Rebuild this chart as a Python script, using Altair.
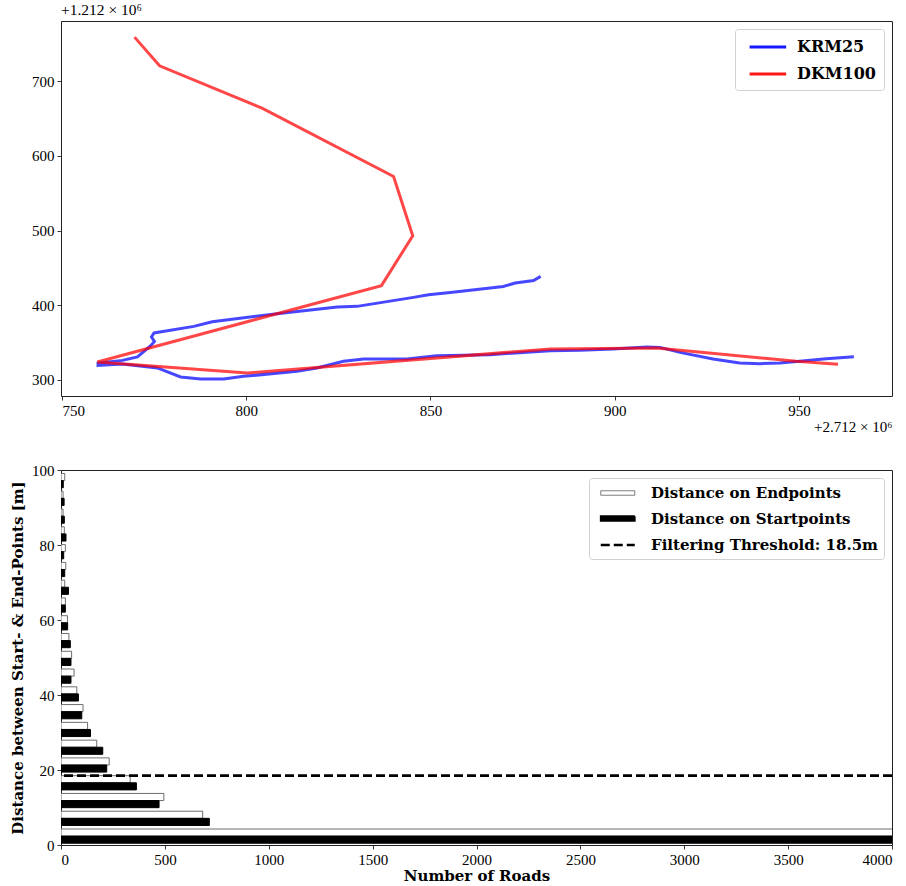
import altair as alt
import pandas as pd

# ---- Track geometry (local offsets: x + 2.712e6, y + 1.212e6) ----
krm25_x = [879.9, 878.0, 873.0, 869.8, 855.4, 849.5, 845.4, 830.1, 824.7, 808.4,
           790.8, 785.8, 775.0, 774.3, 775.1, 774.1, 770.5, 766.4, 759.8, 759.8,
           766.4, 775.9, 782.2, 787.6, 793.9, 799.3, 813.8, 819.2, 826.4, 831.9,
           843.6, 851.7, 866.2, 882.5, 890.6, 899.6, 908.7, 912.3, 917.7, 926.7,
           933.9, 939.4, 944.8, 950.2, 957.4, 964.9]
krm25_y = [438.6, 433.2, 429.8, 425.2, 417.2, 414.1, 410.5, 398.5, 397.7, 388.7,
           378.0, 371.7, 362.9, 357.5, 351.6, 345.9, 330.8, 326.2, 322.7, 319.5,
           321.4, 316.1, 304.0, 301.3, 301.3, 304.8, 311.5, 316.1, 324.9, 328.1,
           328.1, 332.5, 333.8, 339.2, 339.6, 341.5, 344.1, 343.6, 336.9, 328.1,
           322.7, 321.8, 322.7, 324.9, 328.5, 331.2]

dkm100_x = [769.7, 776.5, 804.3, 840.0, 845.2, 836.7, 759.6, 800.3, 882.5, 911.4, 949.3, 960.6]
dkm100_y = [758.9, 720.5, 663.9, 572.4, 493.0, 426.2, 324.1, 309.4, 341.5, 342.8, 324.9, 320.9]

# ---- Histogram of start/end point distances ----
bin_width = 4.74
bin_start = [0.0, 4.74, 9.48, 14.22, 18.96, 23.70, 28.44, 33.18, 37.92, 42.66, 47.40,
             52.14, 56.88, 61.62, 66.36, 71.10, 75.84, 80.58, 85.32, 90.06, 94.80]
endpoints = [4600, 682, 495, 333, 232, 172, 128, 106, 76, 63, 51,
             38, 31, 21, 18, 23, 21, 16, 10, 10, 18]
startpoints = [4700, 714, 472, 363, 220, 201, 142, 100, 84, 48, 48,
               45, 32, 21, 36, 18, 13, 24, 16, 15, 11]
threshold = 18.5

END_LABEL = "Distance on Endpoints"
START_LABEL = "Distance on Startpoints"
THR_LABEL = "Filtering Threshold: 18.5m"

SERIF = "Liberation Serif"
BOLD_SERIF = "DejaVu Serif"

# ---------------- top panel: the two road geometries ----------------
paths = pd.concat([
    pd.DataFrame({"series": "KRM25", "order": range(len(krm25_x)), "x": krm25_x, "y": krm25_y}),
    pd.DataFrame({"series": "DKM100", "order": range(len(dkm100_x)), "x": dkm100_x, "y": dkm100_y}),
])

line_symbol = "M-0.4,0H3.9"

top = alt.Chart(paths).mark_line(strokeWidth=3, opacity=0.72, clip=True).encode(
    x=alt.X("x:Q",
            scale=alt.Scale(domain=[749.75, 975.25], nice=False, zero=False),
            axis=alt.Axis(values=[750, 800, 850, 900, 950], title="+2.712 × 10⁶",
                          titleAnchor="end", titleAlign="right", titleFont=SERIF,
                          titleFontWeight="normal", titleFontSize=15, titlePadding=1)),
    y=alt.Y("y:Q",
            scale=alt.Scale(domain=[278.5, 780.5], nice=False, zero=False),
            axis=alt.Axis(values=[300, 400, 500, 600, 700], title=None)),
    color=alt.Color("series:N",
                    scale=alt.Scale(domain=["KRM25", "DKM100"], range=["#0000ff", "#ff0000"]),
                    legend=alt.Legend(title=None, orient="top-right", offset=8,
                                      symbolType=line_symbol, symbolSize=289,
                                      symbolStrokeWidth=3, symbolOpacity=0.9,
                                      labelFontSize=16, labelOffset=34, rowPadding=9,
                                      padding=8)),
    order="order:Q",
).properties(
    width=831, height=375,
    title=alt.TitleParams("+1.212 × 10⁶", anchor="start", frame="group", font=SERIF,
                          fontSize=15.5, fontWeight="normal", offset=3, color="black"),
)

# ---------------- bottom panel: histogram ----------------
hist = pd.concat([
    pd.DataFrame({"bin_start": bin_start, "series": END_LABEL, "count": endpoints}),
    pd.DataFrame({"bin_start": bin_start, "series": START_LABEL, "count": startpoints}),
])
thr = pd.DataFrame({"series": [THR_LABEL], "value": [threshold]})

dom = [END_LABEL, START_LABEL, THR_LABEL]
rect_symbol = "M-0.5,-0.265H3.5V0.265H-0.5Z"
dash_symbol = "M-0.5,0H3.5"

leg = alt.Legend(title=None, orient="top-right", offset=8, symbolSize=289,
                 labelFontSize=15, labelOffset=36, rowPadding=8, padding=6)

fill_scale = alt.Scale(domain=dom, range=["white", "black", "white"])
stroke_scale = alt.Scale(domain=dom, range=["#6e6e6e", "black", "black"])
dash_scale = alt.Scale(domain=dom, range=[[1, 0], [1, 0], [9, 4]])
width_scale = alt.Scale(domain=dom, range=[1, 2.6], padding=0)
shape_scale = alt.Scale(domain=dom, range=[rect_symbol, rect_symbol, dash_symbol])

x_hist = alt.X("count:Q", scale=alt.Scale(domain=[0, 4000], nice=False),
               axis=alt.Axis(values=list(range(0, 4001, 500)), format="d",
                             title="Number of Roads", titlePadding=1))
y_hist = alt.Y("lo:Q", scale=alt.Scale(domain=[0, 100], nice=False),
               axis=alt.Axis(values=[0, 20, 40, 60, 80, 100],
                             title="Distance between Start- & End-Points [m]"))

bars = alt.Chart(hist).transform_calculate(
    lo=f"datum.bin_start + (datum.series == '{START_LABEL}' ? 0.1 : 0.5) * {bin_width}",
    hi=f"datum.bin_start + (datum.series == '{START_LABEL}' ? 0.5 : 0.9) * {bin_width}",
).mark_bar(clip=True, strokeWidth=1).encode(
    x=x_hist,
    x2=alt.datum(0),
    y=y_hist,
    y2="hi:Q",
    fill=alt.Fill("series:N", scale=fill_scale, legend=leg),
    stroke=alt.Stroke("series:N", scale=stroke_scale, legend=leg),
)

rule = alt.Chart(thr).mark_rule(clip=True).encode(
    y=alt.Y("value:Q"),
    stroke=alt.Stroke("series:N", scale=stroke_scale, legend=leg),
    strokeDash=alt.StrokeDash("series:N", scale=dash_scale, legend=leg),
    strokeWidth=alt.StrokeWidth("series:N", scale=width_scale, legend=leg),
)

key = alt.Chart(thr).mark_point(opacity=0).encode(
    y=alt.Y("value:Q"),
    shape=alt.Shape("series:N", scale=shape_scale, legend=leg),
)

bottom = alt.layer(bars, rule, key).properties(width=831, height=375)

chart = alt.vconcat(top, bottom, spacing=27).resolve_scale(
    color="independent", fill="independent", stroke="independent",
    strokeDash="independent", strokeWidth="independent", shape="independent",
).resolve_legend(
    color="independent", fill="independent", stroke="independent",
    strokeDash="independent", strokeWidth="independent", shape="independent",
).properties(
    padding={"left": 10, "top": 2, "right": 1, "bottom": 0}
).configure_view(
    stroke="#222", strokeWidth=1
).configure_axis(
    domain=False, grid=False, tickColor="#222", tickSize=4, tickWidth=0.9,
    labelFont=SERIF, labelFontSize=15, labelColor="black", labelPadding=3,
    titleFont=BOLD_SERIF, titleFontWeight="bold", titleFontSize=15, titleColor="black",
    titlePadding=6,
).configure_legend(
    labelFont=BOLD_SERIF, labelFontWeight="bold", labelColor="black",
    fillColor="white", strokeColor="#d0d0d0", cornerRadius=3, labelLimit=400,
)

chart.save("out.html", embed_options={"renderer": "svg", "actions": False})
